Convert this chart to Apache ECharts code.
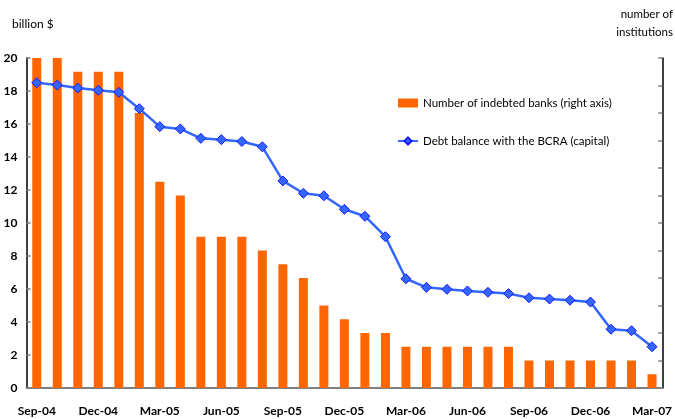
<!DOCTYPE html>
<html>
<head>
<meta charset="utf-8">
<script src="https://cdn.jsdelivr.net/npm/echarts@6/dist/echarts.min.js"></script>
<style>
  html, body { margin: 0; padding: 0; background: #fff; }
  #chart { width: 675px; height: 419px; }
</style>
</head>
<body>
<div id="chart"></div>
<script>
// Monthly observations, Sep-04 to Mar-07
const months = [
  'Sep-04','Oct-04','Nov-04','Dec-04','Jan-05','Feb-05','Mar-05','Apr-05','May-05','Jun-05','Jul-05','Aug-05',
  'Sep-05','Oct-05','Nov-05','Dec-05','Jan-06','Feb-06','Mar-06','Apr-06','May-06','Jun-06','Jul-06','Aug-06',
  'Sep-06','Oct-06','Nov-06','Dec-06','Jan-07','Feb-07','Mar-07'
];

// Number of indebted banks (right axis)
const indebtedBanks = [
  24, 24, 23, 23, 23, 20, 15, 14, 11, 11, 11, 10,
  9, 8, 6, 5, 4, 4, 3, 3, 3, 3, 3, 3,
  2, 2, 2, 2, 2, 2, 1
];

// Debt balance with the BCRA, capital (billion $)
const debtBalance = [
  18.50, 18.36, 18.18, 18.04, 17.92, 16.93, 15.84, 15.70, 15.13, 15.05, 14.94, 14.62,
  12.55, 11.80, 11.65, 10.83, 10.41, 9.17, 6.62, 6.10, 5.98, 5.88, 5.80, 5.72,
  5.47, 5.39, 5.32, 5.21, 3.56, 3.47, 2.50
];

const leftTicks = { min: 0, max: 20, interval: 2 };
const rightTicks = { min: 0, max: 24, interval: 2 };

const FONT = 'Lato, "Open Sans", sans-serif';

const chart = echarts.init(document.getElementById('chart'), null, { renderer: 'canvas' });

chart.setOption({
  backgroundColor: '#ffffff',
  animation: false,
  textStyle: { fontFamily: FONT },
  grid: { left: 26.5, right: 9.5, top: 58, bottom: 31, containLabel: false },
  graphic: [
    { type: 'text', left: 12, top: 18, style: { text: 'billion $', fontFamily: FONT, fontSize: 12, fill: '#000' } },
    { type: 'text', right: 2, top: 8, style: { text: 'number of', fontFamily: FONT, fontSize: 11.5, fill: '#000', align: 'right' } },
    { type: 'text', right: 2, top: 26, style: { text: 'institutions', fontFamily: FONT, fontSize: 11.5, fill: '#000', align: 'right' } }
  ],
  legend: {
    orient: 'vertical',
    left: 397,
    top: 97,
    padding: 0,
    itemGap: 26,
    itemWidth: 20,
    itemHeight: 9,
    textStyle: { fontFamily: FONT, fontSize: 11.5, color: '#000' },
    data: [
      { name: 'Number of indebted banks (right axis)', icon: 'rect' },
      { name: 'Debt balance with the BCRA (capital)' }
    ]
  },
  xAxis: {
    type: 'category',
    data: months,
    boundaryGap: true,
    axisLine: { show: true, lineStyle: { color: '#808080', width: 2 } },
    axisTick: { show: false },
    axisLabel: {
      interval: 2,
      margin: 17,
      fontFamily: FONT,
      fontWeight: 'bold',
      fontSize: 12,
      color: '#000'
    },
    splitLine: { show: false }
  },
  yAxis: [
    {
      type: 'value',
      position: 'left',
      min: leftTicks.min,
      max: leftTicks.max,
      interval: leftTicks.interval,
      axisLine: { show: true, lineStyle: { color: '#000', width: 1.5 } },
      axisTick: { show: true, inside: true, length: 4, lineStyle: { color: '#808080', width: 1.5 } },
      axisLabel: {
        margin: 9,
        fontFamily: FONT,
        fontWeight: 'bold',
        fontSize: 12,
        color: '#000'
      },
      splitLine: { show: false }
    },
    {
      type: 'value',
      position: 'right',
      min: rightTicks.min,
      max: rightTicks.max,
      interval: rightTicks.interval,
      axisLine: { show: true, lineStyle: { color: '#000', width: 1.5 } },
      axisTick: { show: true, inside: true, length: 4, lineStyle: { color: '#808080', width: 1.5 } },
      axisLabel: { show: false },
      splitLine: { show: false }
    }
  ],
  series: [
    {
      name: 'Number of indebted banks (right axis)',
      type: 'bar',
      yAxisIndex: 1,
      data: indebtedBanks,
      barWidth: 9,
      itemStyle: { color: '#ff6600' },
      z: 1
    },
    {
      name: 'Debt balance with the BCRA (capital)',
      type: 'line',
      yAxisIndex: 0,
      data: debtBalance,
      symbol: 'diamond',
      symbolSize: 10,
      lineStyle: { color: '#3366ff', width: 2.5 },
      itemStyle: { color: '#3366ff', borderColor: '#1a1aff', borderWidth: 1 },
      z: 3
    }
  ]
});
</script>
</body>
</html>
